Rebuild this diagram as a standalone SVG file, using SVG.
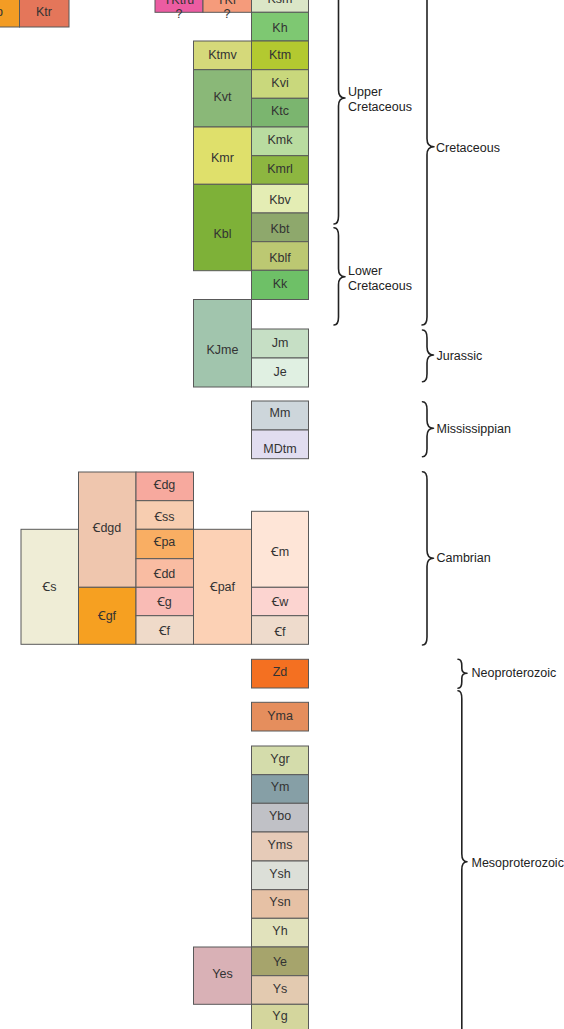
<svg xmlns="http://www.w3.org/2000/svg" width="564" height="1029" viewBox="0 0 564 1029">
<style>
.b{stroke:#595959;stroke-width:1}
.t{font-family:"Liberation Sans","Noto Sans","DejaVu Sans",Arial,sans-serif;font-size:12.5px;fill:#333;text-anchor:middle}
.l{font-family:"Liberation Sans","Noto Sans",Arial,sans-serif;font-size:12.5px;fill:#222}
.br{fill:none;stroke:#222;stroke-width:1.6;stroke-linecap:round;stroke-linejoin:round}
</style>
<rect x="0" y="0" width="564" height="1029" fill="#ffffff"/>
<g id="p"><rect class="b" x="-2" y="-10" width="21.5" height="37" fill="#f39c24"/><text class="t" x="-0.5" y="15.5">p</text></g>
<g id="Ktr"><rect class="b" x="19.5" y="-10" width="49.5" height="37" fill="#e4765a"/><text class="t" x="44" y="15.7">Ktr</text></g>
<g id="TKtru"><rect class="b" x="155" y="-20" width="48" height="32.3" fill="#ec5ca2"/><text class="t" x="179" y="3.5">TKtru</text><text class="t" x="179" y="18">?</text></g>
<g id="TKr"><rect class="b" x="203" y="-20" width="48.5" height="32.3" fill="#f59b7b"/><text class="t" x="227" y="3.5">TKr</text><text class="t" x="227" y="18">?</text></g>
<g id="Ksm"><rect class="b" x="251.5" y="-20" width="57" height="32.3" fill="#dbe6c7"/><text class="t" x="280" y="2.8">Ksm</text></g>
<g id="Kh"><rect class="b" x="251.5" y="12.3" width="57" height="28.7" fill="#7ec872"/><text class="t" x="280" y="31.5">Kh</text></g>
<g id="Ktmv"><rect class="b" x="193.5" y="41" width="58" height="28.7" fill="#d5d97a"/><text class="t" x="222.5" y="58.7">Ktmv</text></g>
<g id="Ktm"><rect class="b" x="251.5" y="41" width="57" height="28.7" fill="#b3c930"/><text class="t" x="280" y="58.7">Ktm</text></g>
<g id="Kvt"><rect class="b" x="193.5" y="69.7" width="58" height="57.3" fill="#8ab878"/><text class="t" x="222.5" y="100.8">Kvt</text></g>
<g id="Kvi"><rect class="b" x="251.5" y="69.7" width="57" height="28.6" fill="#c9d87c"/><text class="t" x="280" y="87">Kvi</text></g>
<g id="Ktc"><rect class="b" x="251.5" y="98.3" width="57" height="28.7" fill="#7bb56f"/><text class="t" x="280" y="115">Ktc</text></g>
<g id="Kmr"><rect class="b" x="193.5" y="127" width="58" height="57.3" fill="#dfe06b"/><text class="t" x="222.5" y="162.2">Kmr</text></g>
<g id="Kmk"><rect class="b" x="251.5" y="127" width="57" height="28.7" fill="#b9dca0"/><text class="t" x="280" y="144">Kmk</text></g>
<g id="Kmrl"><rect class="b" x="251.5" y="155.7" width="57" height="28.6" fill="#8db640"/><text class="t" x="280" y="172.8">Kmrl</text></g>
<g id="Kbl"><rect class="b" x="193.5" y="184.3" width="58" height="86.4" fill="#7eb138"/><text class="t" x="222.5" y="238.2">Kbl</text></g>
<g id="Kbv"><rect class="b" x="251.5" y="184.3" width="57" height="28.7" fill="#e4edb4"/><text class="t" x="280" y="204.2">Kbv</text></g>
<g id="Kbt"><rect class="b" x="251.5" y="213" width="57" height="28.7" fill="#8ea86c"/><text class="t" x="280" y="232.8">Kbt</text></g>
<g id="Kblf"><rect class="b" x="251.5" y="241.7" width="57" height="28.6" fill="#bcc872"/><text class="t" x="280" y="262.2">Kblf</text></g>
<g id="Kk"><rect class="b" x="251.5" y="270.3" width="57" height="29.2" fill="#6ec067"/><text class="t" x="280" y="288.3">Kk</text></g>
<g id="KJme"><rect class="b" x="193.5" y="299.5" width="58" height="87.5" fill="#a1c5ad"/><text class="t" x="222.5" y="353.5">KJme</text></g>
<g id="Jm"><rect class="b" x="251.5" y="329" width="57" height="29" fill="#c6dfc5"/><text class="t" x="280" y="347">Jm</text></g>
<g id="Je"><rect class="b" x="251.5" y="358" width="57" height="29" fill="#e0f0e2"/><text class="t" x="280" y="375.8">Je</text></g>
<g id="Mm"><rect class="b" x="251.5" y="401" width="57" height="29" fill="#cdd6db"/><text class="t" x="280" y="417">Mm</text></g>
<g id="MDtm"><rect class="b" x="251.5" y="430" width="57" height="28.7" fill="#e1ddf0"/><text class="t" x="280" y="452.8">MDtm</text></g>
<g id="Cs"><rect class="b" x="21" y="529.3" width="57.5" height="115" fill="#efedd6"/><text class="t" x="49.5" y="591.3">Ꞓs</text></g>
<g id="Cdgd"><rect class="b" x="78.5" y="472" width="57.5" height="115.3" fill="#efc6ae"/><text class="t" x="107" y="531.7">Ꞓdgd</text></g>
<g id="Cgf"><rect class="b" x="78.5" y="587.3" width="57.5" height="57" fill="#f6a021"/><text class="t" x="107" y="619.5">Ꞓgf</text></g>
<g id="Cdg"><rect class="b" x="136" y="472" width="57.5" height="28.7" fill="#f7a99e"/><text class="t" x="164.5" y="489">Ꞓdg</text></g>
<g id="Css"><rect class="b" x="136" y="500.7" width="57.5" height="28.6" fill="#f7cdb0"/><text class="t" x="164.5" y="520.5">Ꞓss</text></g>
<g id="Cpa"><rect class="b" x="136" y="529.3" width="57.5" height="29.4" fill="#f9ae63"/><text class="t" x="164.5" y="546">Ꞓpa</text></g>
<g id="Cdd"><rect class="b" x="136" y="558.7" width="57.5" height="28.6" fill="#f9bca2"/><text class="t" x="164.5" y="577.8">Ꞓdd</text></g>
<g id="Cg"><rect class="b" x="136" y="587.3" width="57.5" height="28.4" fill="#f9bbb5"/><text class="t" x="164.5" y="606">Ꞓg</text></g>
<g id="Cf1"><rect class="b" x="136" y="615.7" width="57.5" height="28.6" fill="#efdac9"/><text class="t" x="164.5" y="634.5">Ꞓf</text></g>
<g id="Cpaf"><rect class="b" x="193.5" y="529.3" width="58" height="115" fill="#fcd1b5"/><text class="t" x="222.5" y="591">Ꞓpaf</text></g>
<g id="Cm"><rect class="b" x="251.5" y="511.3" width="57" height="76" fill="#fee5d7"/><text class="t" x="280" y="556.2">Ꞓm</text></g>
<g id="Cw"><rect class="b" x="251.5" y="587.3" width="57" height="28.4" fill="#fcd4d0"/><text class="t" x="280" y="605.7">Ꞓw</text></g>
<g id="Cf2"><rect class="b" x="251.5" y="615.7" width="57" height="28.6" fill="#eedbcc"/><text class="t" x="280" y="636.3">Ꞓf</text></g>
<g id="Zd"><rect class="b" x="251.5" y="659.3" width="57" height="28.7" fill="#f47021"/><text class="t" x="280" y="675.7">Zd</text></g>
<g id="Yma"><rect class="b" x="251.5" y="702.3" width="57" height="28.7" fill="#e58e5d"/><text class="t" x="280" y="719.8">Yma</text></g>
<g id="Ygr"><rect class="b" x="251.5" y="746" width="57" height="28.7" fill="#d4dcab"/><text class="t" x="280" y="763">Ygr</text></g>
<g id="Ym"><rect class="b" x="251.5" y="774.7" width="57" height="28.6" fill="#869fa6"/><text class="t" x="280" y="791.2">Ym</text></g>
<g id="Ybo"><rect class="b" x="251.5" y="803.3" width="57" height="28.7" fill="#c0c1c6"/><text class="t" x="280" y="819.5">Ybo</text></g>
<g id="Yms"><rect class="b" x="251.5" y="832" width="57" height="29" fill="#e6cbb8"/><text class="t" x="280" y="848.8">Yms</text></g>
<g id="Ysh"><rect class="b" x="251.5" y="861" width="57" height="28.7" fill="#dcdfd8"/><text class="t" x="280" y="877.8">Ysh</text></g>
<g id="Ysn"><rect class="b" x="251.5" y="889.7" width="57" height="28.6" fill="#e6c1a5"/><text class="t" x="280" y="906.2">Ysn</text></g>
<g id="Yh"><rect class="b" x="251.5" y="918.3" width="57" height="28.7" fill="#e1e2bc"/><text class="t" x="280" y="934.8">Yh</text></g>
<g id="Yes"><rect class="b" x="193.5" y="947" width="58" height="57.3" fill="#d9b1b6"/><text class="t" x="222.5" y="978.3">Yes</text></g>
<g id="Ye"><rect class="b" x="251.5" y="947" width="57" height="28.7" fill="#a6a46c"/><text class="t" x="280" y="966.2">Ye</text></g>
<g id="Ys"><rect class="b" x="251.5" y="975.7" width="57" height="28.6" fill="#e3cab0"/><text class="t" x="280" y="992.8">Ys</text></g>
<g id="Yg"><rect class="b" x="251.5" y="1004.3" width="57" height="30" fill="#d4d69d"/><text class="t" x="280" y="1019.5">Yg</text></g>
<g id="braces">
<path class="br" d="M338.5,-20 L338.5,90 C338.5,95 340.5,98 345,98 C340.5,98 338.5,101 338.5,106 L338.5,216 C338.5,221 337,224 334,224"/>
<path class="br" d="M334,227.7 C337,227.7 338.5,230.7 338.5,235.7 L338.5,268.7 C338.5,273.7 340.5,276.7 345,276.7 C340.5,276.7 338.5,279.7 338.5,284.7 L338.5,317 C338.5,322 337,325 334,325"/>
<path class="br" d="M427,-20 L427,138.7 C427,143.7 429,146.7 434,146.7 C429,146.7 427,149.7 427,154.7 L427,317 C427,322 425.5,325 422,325"/>
<path class="br" d="M422.5,330 C425.5,330 427,333 427,338 L427,347 C427,352 429,355 433.5,355 C429,355 427,358 427,363 L427,373.7 C427,378.7 425.5,381.7 422.5,381.7"/>
<path class="br" d="M422.5,401.7 C425.5,401.7 427,404.7 427,409.7 L427,420.3 C427,425.3 429,428.3 433.5,428.3 C429,428.3 427,431.3 427,436.3 L427,448.7 C427,453.7 425.5,456.7 422.5,456.7"/>
<path class="br" d="M422.5,471.7 C425.5,471.7 427,474.7 427,479.7 L427,550.3 C427,555.3 429,558.3 433.5,558.3 C429,558.3 427,561.3 427,566.3 L427,637 C427,642 425.5,645 422.5,645"/>
<path class="br" d="M458,659.3 C460.5,659.3 461.8,661.8 461.8,665.8 L461.8,668.3 C461.8,671.3 463.5,673.3 467,673.3 C463.5,673.3 461.8,675.3 461.8,678.3 L461.8,681.8 C461.8,685.8 460.5,688.3 458,688.3"/>
<path class="br" d="M458,690.7 C460.5,690.7 461.8,693.7 461.8,698.7 L461.8,853.7 C461.8,858.7 463.5,861.7 467,861.7 C463.5,861.7 461.8,864.7 461.8,869.7 L461.8,1040"/>
</g>
<g id="labels">
<text class="l" x="348" y="95.5">Upper</text>
<text class="l" x="348" y="110.5">Cretaceous</text>
<text class="l" x="348" y="275">Lower</text>
<text class="l" x="348" y="290">Cretaceous</text>
<text class="l" x="436" y="151.5">Cretaceous</text>
<text class="l" x="436.5" y="360">Jurassic</text>
<text class="l" x="436.5" y="432.5">Mississippian</text>
<text class="l" x="436.5" y="561.5">Cambrian</text>
<text class="l" x="471.5" y="677">Neoproterozoic</text>
<text class="l" x="471.5" y="866.5">Mesoproterozoic</text>
</g>
</svg>
